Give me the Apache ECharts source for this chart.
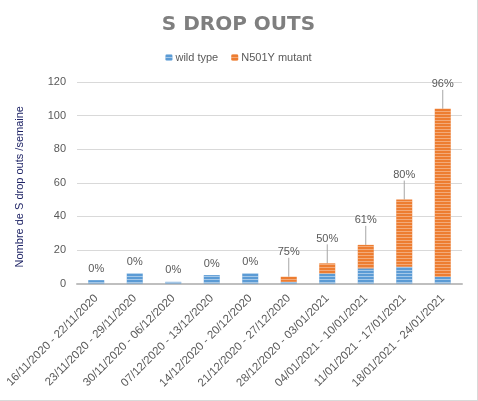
<!DOCTYPE html>
<html>
<head>
<meta charset="utf-8">
<script src="https://cdn.jsdelivr.net/npm/echarts@6/dist/echarts.min.js"></script>
<style>
html,body{margin:0;padding:0;background:#fff;}
#c{width:478px;height:401px;box-sizing:border-box;border-right:1px solid #d9d9d9;border-bottom:1px solid #d9d9d9;}
</style>
</head>
<body>
<div id="c"></div>
<script>
const categories = ["16/11/2020 - 22/11/2020","23/11/2020 - 29/11/2020","30/11/2020 - 06/12/2020","07/12/2020 - 13/12/2020","14/12/2020 - 20/12/2020","21/12/2020 - 27/12/2020","28/12/2020 - 03/01/2021","04/01/2021 - 10/01/2021","11/01/2021 - 17/01/2021","18/01/2021 - 24/01/2021"];
const wildType = [2, 6, 1, 5, 6, 1, 6, 9, 10, 4];
const mutant = [0, 0, 0, 0, 0, 3, 6, 14, 40, 100];
const percentLabels = ["0%","0%","0%","0%","0%","75%","50%","61%","80%","96%"];
const yTicks = [0, 20, 40, 60, 80, 100, 120];

const chart = echarts.init(document.getElementById('c'), null, {renderer: 'canvas'});
const stripe = (c) => ({symbol: 'rect', symbolSize: 1, dashArrayX: [1, 0], dashArrayY: [1, 2], rotation: 0, color: c});
const withLeader = (i) => i >= 5;
chart.setOption({
  animation: false,
  title: {
    text: 'S DROP OUTS', left: 'center', top: 10,
    textStyle: {fontFamily: 'DejaVu Sans', fontWeight: 'bold', fontSize: 20, color: '#7f7f7f'}
  },
  legend: {
    top: 47, left: 'center', itemWidth: 7, itemHeight: 7, itemGap: 13,
    textStyle: {fontFamily: 'Liberation Sans', fontSize: 11, color: '#595959', padding: [0,0,0,-2]},
    data: ['wild type', 'N501Y mutant']
  },
  grid: {left: 77, right: 15, top: 82, bottom: 116.5},
  xAxis: {
    type: 'category', data: categories,
    axisLine: {lineStyle: {color: '#bfbfbf', width: 2}},
    axisTick: {show: false},
    axisLabel: {rotate: 45, interval: 0, fontFamily: 'Liberation Sans', fontSize: 11.5, color: '#595959', margin: 13}
  },
  yAxis: {
    type: 'value', min: yTicks[0], max: yTicks[yTicks.length-1], interval: 20,
    name: 'Nombre de S drop outs /semaine', nameLocation: 'middle', nameGap: 52,
    nameTextStyle: {fontFamily: 'Liberation Sans', fontSize: 11, color: '#1f2466', padding: [0,0,0,-8]},
    axisLine: {show: false}, axisTick: {show: false},
    splitLine: {lineStyle: {color: '#d9d9d9'}},
    axisLabel: {fontFamily: 'Liberation Sans', fontSize: 11, color: '#595959', margin: 11}
  },
  series: [
    {
      name: 'wild type', type: 'bar', stack: 'a', data: wildType, barWidth: 16,
      itemStyle: {color: '#5b9bd5', decal: stripe('rgba(255,255,255,0.45)')}
    },
    {
      name: 'N501Y mutant', type: 'bar', stack: 'a', barWidth: 16,
      data: mutant.map((v, i) => ({value: v, labelLine: {show: withLeader(i)}})),
      itemStyle: {color: '#ed7d31', decal: stripe('rgba(255,255,255,0.35)')},
      label: {
        show: true, position: 'top', distance: 6,
        fontFamily: 'Liberation Sans', fontSize: 11, color: '#595959',
        formatter: (p) => percentLabels[p.dataIndex]
      },
      labelLine: {show: true, lineStyle: {color: '#a6a6a6', width: 1}},
      labelLayout: (p) => withLeader(p.dataIndex) ? {dy: -13} : {}
    }
  ]
});
</script>
</body>
</html>
